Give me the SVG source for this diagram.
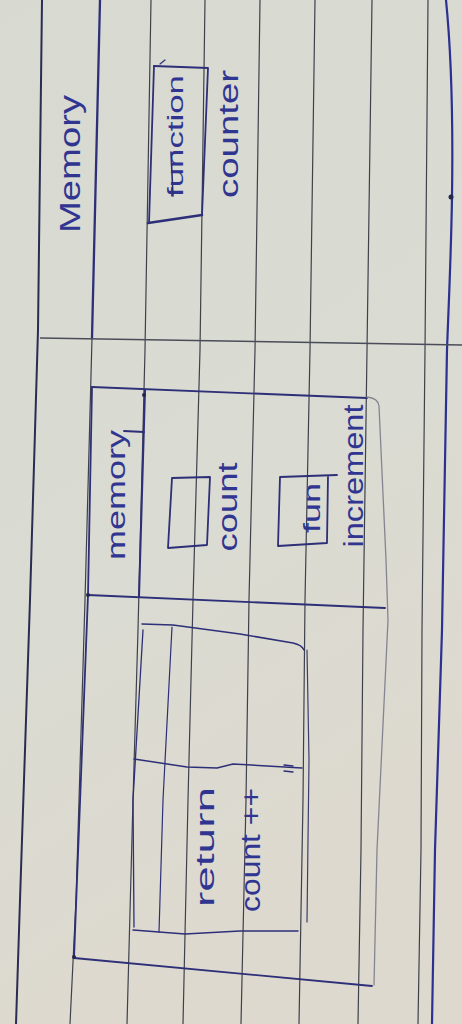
<svg xmlns="http://www.w3.org/2000/svg" width="462" height="1024" viewBox="0 0 462 1024">
<defs>
<linearGradient id="paper" x1="0" y1="0" x2="0.3" y2="1">
<stop offset="0" stop-color="#d8d9d1"/>
<stop offset="0.6" stop-color="#dadbd2"/>
<stop offset="1" stop-color="#ded9cf"/>
</linearGradient>
<style>
.rule{fill:none;stroke:#3e404c;stroke-width:1.2;stroke-linejoin:round}
.ink{fill:none;stroke:#2d2f78;stroke-width:1.8;stroke-linecap:round;stroke-linejoin:round}
.pen{fill:none;stroke:#858592;stroke-width:1.3;stroke-linecap:round;stroke-linejoin:round}
.t{font-family:"Liberation Sans","DejaVu Sans",sans-serif;fill:#2f3590;text-anchor:middle;lengthAdjust:spacingAndGlyphs}
.dot{fill:#24264a}
</style>
</defs>
<rect id="paper-bg" x="0" y="0" width="462" height="1024" fill="url(#paper)"/>
<g id="ruled-lines">
<path class="rule" d="M42,0 L38,330 L30,600 L20,900 L16,1024" style="stroke:#2a2c52;stroke-width:2"/>
<path class="rule" d="M92,338 L85,600 L76,900 L70,1024"/>
<path class="rule" d="M151,0 L145,350 L138,630 L133,800 L127,1024"/>
<path class="rule" d="M205,0 L200,350 L193,600 L188,800 L183,1024"/>
<path class="rule" d="M260,0 L255,350 L249,600 L246,800 L241,1024"/>
<path class="rule" d="M315,0 L310,350 L305,600 L303,800 L299,1024"/>
<path class="rule" d="M372,0 L367,350 L363,630 L361,850 L358,1024"/>
<path class="rule" d="M428,0 L425,350 L422,630 L421,850 L418,1024"/>
<path class="ink" d="M446,0 C452,60 453,130 452,197 C451,260 448,320 447,350 L442,630 L435,850 L432,1024" style="stroke:#2c3090;stroke-width:2.2"/>
<circle class="dot" cx="451" cy="197" r="2.5"/>
</g>
<g id="global-memory">
<path class="ink" d="M100,0 L92,338" style="stroke-width:2.3"/>
<path class="rule" d="M40,338 L462,345" style="stroke:#4a4c5a;stroke-width:1.5"/>
<text class="t" transform="translate(80,164) rotate(-90)" font-size="30" textLength="138" lengthAdjust="spacingAndGlyphs">Memory</text>
</g>
<g id="function-counter">
<path class="ink" d="M154,66 L208,68 L202,215"/>
<path class="ink" d="M202,215 L148,223" style="stroke-width:2.6"/>
<path class="ink" d="M154,66 L149,223"/>
<path class="ink" d="M160,64 L165,60" style="stroke-width:1.2"/>
<text class="t" transform="translate(183,136) rotate(-90)" font-size="22" textLength="122" lengthAdjust="spacingAndGlyphs">function</text>
<path class="ink" d="M171,152 L173,196" style="stroke-width:1.6"/>
<text class="t" transform="translate(238,134) rotate(-90)" font-size="27" textLength="128" lengthAdjust="spacingAndGlyphs">counter</text>
</g>
<g id="closure-scope">
<path class="ink" d="M92,387 L367,398"/>
<path class="pen" d="M367,397 Q378,398 379,406 L386,560 L388,620 L377,850 L374,985"/>
<path class="ink" d="M92,387 L88,595 L74,958"/>
<path class="ink" d="M74,958 L372,986"/>
<circle class="dot" cx="74" cy="957" r="2"/>
<path class="ink" d="M88,595 L385,608"/>
<circle class="dot" cx="88" cy="595" r="2"/>
</g>
<g id="closure-memory">
<path class="ink" d="M145,390 L139,597" style="stroke-width:2"/>
<circle class="dot" cx="144" cy="395" r="2"/>
<path class="ink" d="M124,431 L144,432"/>
<text class="t" transform="translate(125,495) rotate(-90)" font-size="26" textLength="130" lengthAdjust="spacingAndGlyphs">memory</text>
</g>
<g id="count-var">
<path class="ink" d="M172,478 L210,477 L207,545 L168,548 Z"/>
<text class="t" transform="translate(237,507) rotate(-90)" font-size="27" textLength="89" lengthAdjust="spacingAndGlyphs">count</text>
</g>
<g id="increment-fn">
<path class="ink" d="M280,477 L337,475 M328,476 L327,543 M278,546 L327,543 M280,477 L278,546"/>
<text class="t" transform="translate(320,508) rotate(-90)" font-size="24" textLength="50" lengthAdjust="spacingAndGlyphs">fun</text>
<text class="t" transform="translate(363,476) rotate(-90)" font-size="28" textLength="143" lengthAdjust="spacingAndGlyphs">increment</text>
</g>
<g id="increment-body">
<path class="ink" d="M142,624 L173,625 L240,634 L293,643 Q302,645 304,650" style="stroke-width:1.5"/>
<path class="ink" d="M307,650 L309,760 L307,922" style="stroke-width:1.2;stroke:#3b3d6e"/>
<path class="ink" d="M143,630 L133,800 L134,927" style="stroke-width:1.3"/>
<path class="ink" d="M133,930 L185,934 L240,931 L298,931" style="stroke-width:1.5"/>
<path class="ink" d="M172,627 L163,800 L159,932" style="stroke-width:1.2"/>
<path class="ink" d="M134,759 L187,767 L217,768 L233,764 L302,768" style="stroke-width:1.5"/>
<path class="ink" d="M284,765 L293,766 M284,771 L293,772" style="stroke-width:1.3"/>
<text class="t" transform="translate(214,847) rotate(-90)" font-size="25" textLength="120" lengthAdjust="spacingAndGlyphs">return</text>
<text class="t" transform="translate(260,850) rotate(-90)" font-size="27" textLength="124" lengthAdjust="spacingAndGlyphs">count ++</text>
</g>
</svg>
